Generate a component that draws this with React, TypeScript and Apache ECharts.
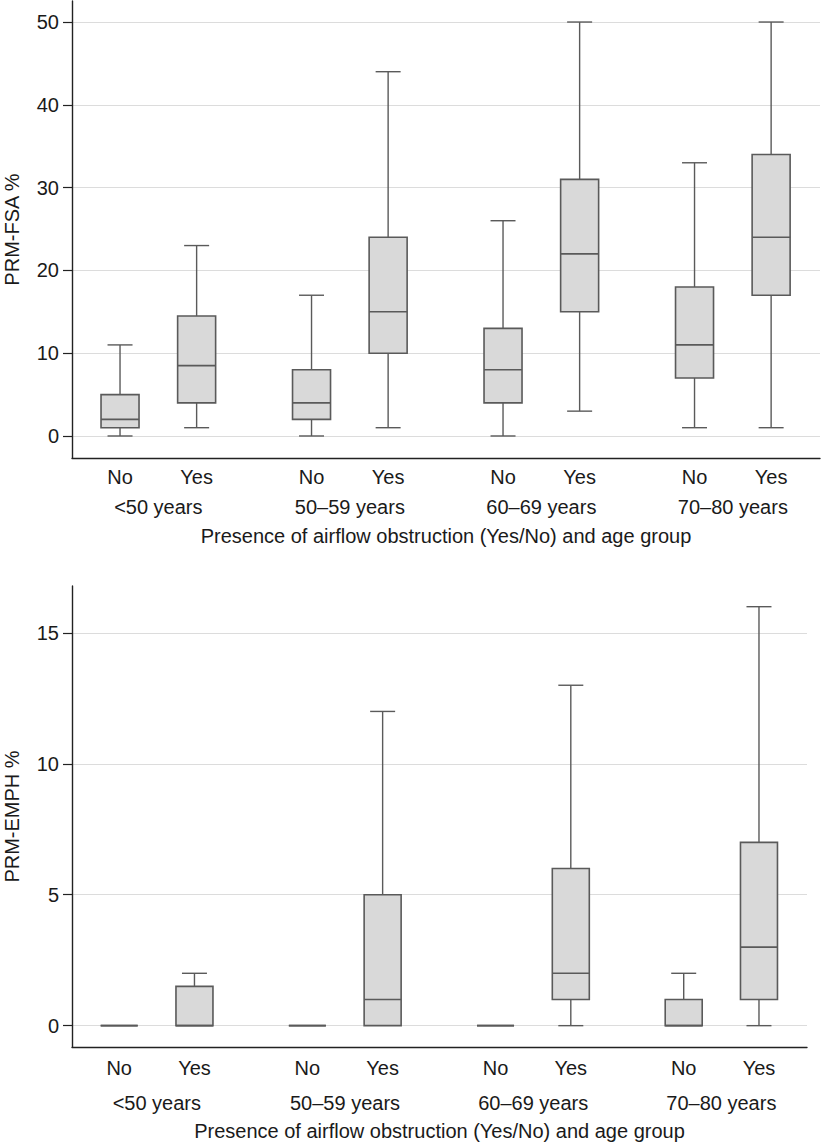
import React, { useEffect, useRef } from "react";
import * as echarts from "echarts";

// Categories
const ageGroups = ["<50 years", "50–59 years", "60–69 years", "70–80 years"];
const obstruction = ["No", "Yes"];

// PRM-FSA % (top panel): No/Yes per age group, in order
const fsaMin = [0, 1, 0, 1, 0, 3, 1, 1];
const fsaQ1 = [1, 4, 2, 10, 4, 15, 7, 17];
const fsaMedian = [2, 8.5, 4, 15, 8, 22, 11, 24];
const fsaQ3 = [5, 14.5, 8, 24, 13, 31, 18, 34];
const fsaMax = [11, 23, 17, 44, 26, 50, 33, 50];

// PRM-EMPH % (bottom panel)
const emphMin = [0, 0, 0, 0, 0, 0, 0, 0];
const emphQ1 = [0, 0, 0, 0, 0, 1, 0, 1];
const emphMedian = [0, 0, 0, 1, 0, 2, 0, 3];
const emphQ3 = [0, 1.5, 0, 5, 0, 6, 1, 7];
const emphMax = [0, 2, 0, 12, 0, 13, 2, 16];

// Tick labels
const fsaTicks = [0, 10, 20, 30, 40, 50];
const emphTicks = [0, 5, 10, 15];

const FONT = "'Liberation Sans', Arial, Helvetica, sans-serif";
const TEXT = "#1a1a1a";
const STROKE = "#5a5a5a";
const FS = 20;

// x position of each box: groups separated by an extra half-slot gap
const GROUP_STEP = 2.5;
const boxPos: number[] = [];
const boxLabel: string[] = [];
ageGroups.forEach((_, g) => {
  obstruction.forEach((o, k) => {
    boxPos.push(g * GROUP_STEP + k);
    boxLabel.push(o);
  });
});
const groupPos = ageGroups.map((_, g) => g * GROUP_STEP + 0.5);

function buildData(mn: number[], q1: number[], md: number[], q3: number[], mx: number[]) {
  return boxPos.map((x, i) => [x, mn[i], q1[i], md[i], q3[i], mx[i]]);
}

function makeRender(boxW: number, capW: number) {
  return (params: any, api: any) => {
    const x = api.value(0);
    const mn = api.value(1);
    const q1 = api.value(2);
    const md = api.value(3);
    const q3 = api.value(4);
    const mx = api.value(5);
    const cx = api.coord([x, 0])[0];
    const y = (v: number) => api.coord([x, v])[1];
    const ls = { stroke: STROKE, lineWidth: 1.4, fill: null };
    const children: any[] = [];
    if (mx > q3) {
      children.push({ type: "line", shape: { x1: cx, y1: y(q3), x2: cx, y2: y(mx) }, style: ls });
      children.push({ type: "line", shape: { x1: cx - capW / 2, y1: y(mx), x2: cx + capW / 2, y2: y(mx) }, style: ls });
    }
    if (mn < q1) {
      children.push({ type: "line", shape: { x1: cx, y1: y(q1), x2: cx, y2: y(mn) }, style: ls });
      children.push({ type: "line", shape: { x1: cx - capW / 2, y1: y(mn), x2: cx + capW / 2, y2: y(mn) }, style: ls });
    }
    children.push({
      type: "rect",
      shape: { x: cx - boxW / 2, y: y(q3), width: boxW, height: y(q1) - y(q3) },
      style: { fill: "#d9d9d9", stroke: STROKE, lineWidth: 1.6 },
    });
    children.push({
      type: "line",
      shape: { x1: cx - boxW / 2, y1: y(md), x2: cx + boxW / 2, y2: y(md) },
      style: { stroke: STROKE, lineWidth: 1.6 },
    });
    return { type: "group", children };
  };
}

function labelAxis(gridIndex: number, min: number, max: number, margin: number, line: boolean) {
  return {
    type: "value",
    gridIndex,
    position: "bottom",
    min,
    max,
    axisLine: { show: line, onZero: false, lineStyle: { color: "#222", width: 1.4 } },
    axisTick: { show: false },
    splitLine: { show: false },
    axisLabel: {
      customValues: line ? boxPos : groupPos,
      formatter: (v: number) => {
        if (line) {
          const i = boxPos.findIndex((p) => Math.abs(p - v) < 1e-6);
          return i >= 0 ? boxLabel[i] : "";
        }
        const g = groupPos.findIndex((p) => Math.abs(p - v) < 1e-6);
        return g >= 0 ? ageGroups[g] : "";
      },
      margin,
      fontSize: FS,
      fontFamily: FONT,
      color: TEXT,
    },
  };
}

function valueAxis(gridIndex: number, min: number, max: number, ticks: number[], name: string) {
  return {
    type: "value",
    gridIndex,
    min,
    max,
    name,
    nameLocation: "middle",
    nameGap: 50,
    nameTextStyle: { fontSize: FS, fontFamily: FONT, color: TEXT },
    axisLine: { show: true, onZero: false, lineStyle: { color: "#222", width: 1.4 } },
    axisTick: { show: true, length: 9, customValues: ticks, lineStyle: { color: "#222", width: 1.2 } },
    axisLabel: { customValues: ticks, margin: 13, fontSize: FS, fontFamily: FONT, color: TEXT },
    splitLine: { show: true, lineStyle: { color: "#dcdcdc", width: 1 } },
  };
}

export default function App() {
  const ref = useRef<HTMLDivElement>(null);
  useEffect(() => {
    if (!ref.current) return;
    const chart = echarts.init(ref.current, undefined, { renderer: "svg" });
    const xMin = -0.627;
    const xMax = 9.138;
    const title = "Presence of airflow obstruction (Yes/No) and age group";
    chart.setOption({
      animation: false,
      backgroundColor: "#ffffff",
      textStyle: { fontFamily: FONT },
      grid: [
        { left: 72, top: 1, width: 748, height: 457, outerBoundsMode: "none" },
        { left: 72, top: 586, width: 735, height: 461, outerBoundsMode: "none" },
      ],
      xAxis: [
        {
          ...labelAxis(0, xMin, xMax, 9, true),
          name: title,
          nameLocation: "middle",
          nameGap: 68,
          nameTextStyle: { fontSize: FS, fontFamily: FONT, color: TEXT },
        },
        labelAxis(0, xMin, xMax, 39, false),
        {
          ...labelAxis(1, xMin, xMax, 11, true),
          name: title,
          nameLocation: "middle",
          nameGap: 74,
          nameTextStyle: { fontSize: FS, fontFamily: FONT, color: TEXT },
        },
        labelAxis(1, xMin, xMax, 46, false),
      ],
      yAxis: [
        valueAxis(0, -2.66, 52.54, fsaTicks, "PRM-FSA %"),
        valueAxis(1, -0.815, 16.79, emphTicks, "PRM-EMPH %"),
      ],
      series: [
        {
          type: "custom",
          xAxisIndex: 0,
          yAxisIndex: 0,
          renderItem: makeRender(38, 25),
          encode: { x: 0, y: [1, 2, 3, 4, 5] },
          data: buildData(fsaMin, fsaQ1, fsaMedian, fsaQ3, fsaMax),
          silent: true,
        },
        {
          type: "custom",
          xAxisIndex: 2,
          yAxisIndex: 1,
          renderItem: makeRender(37, 25),
          encode: { x: 0, y: [1, 2, 3, 4, 5] },
          data: buildData(emphMin, emphQ1, emphMedian, emphQ3, emphMax),
          silent: true,
        },
      ],
    });
    return () => chart.dispose();
  }, []);
  return (
    <div
      ref={ref}
      style={{ position: "absolute", left: 0, top: 0, width: 822, height: 1144, background: "#fff" }}
    />
  );
}
